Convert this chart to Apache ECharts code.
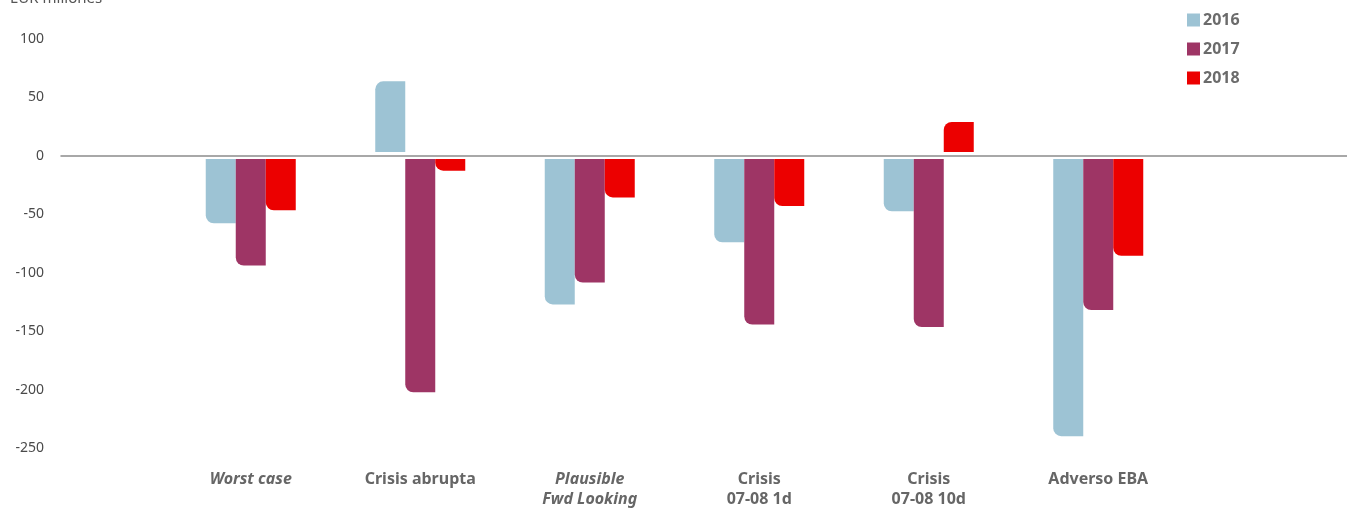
<!DOCTYPE html>
<html>
<head>
<meta charset="utf-8">
<title>EUR millones</title>
<script src="https://cdn.jsdelivr.net/npm/echarts@6/dist/echarts.min.js"></script>
<style>
  html, body { margin: 0; padding: 0; background: #fff; }
  #chart { width: 1347px; height: 509px; }
</style>
</head>
<body>
<div id="chart"></div>
<script>
const categories = ['Worst case', 'Crisis abrupta', 'Plausible\nFwd Looking', 'Crisis\n07-08 1d', 'Crisis\n07-08 10d', 'Adverso EBA']
const italicCats = ['Worst case', 'Plausible\nFwd Looking']
const years = ['2016', '2017', '2018']
const values2016 = [-59.3, 63.3, -129.4, -75.8, -49, -243.2]
const values2017 = [-95.8, -205.3, -110.6, -146.8, -149, -134.3]
const values2018 = [-48.2, -13.9, -37, -44.5, 28.2, -87.5]
const yTicks = { min: -250, max: 100, interval: 50 }
const colors = ['#9dc3d4', '#9e3565', '#ec0000']

const FONT = '"Noto Sans", "Open Sans", sans-serif'
const gridTop = 38.8
const gridHeight = 409.2

function barData(list) {
  return list.map(v => ({
    value: v,
    itemStyle: { borderRadius: v < 0 ? [0, 0, 0, 8] : [8, 0, 0, 0] }
  }))
}

const chart = echarts.init(document.getElementById('chart'))
chart.setOption({
  animation: false,
  backgroundColor: '#fff',
  color: colors,
  title: {
    text: 'EUR millones',
    left: 5,
    top: -14,
    textStyle: { fontFamily: FONT, fontSize: 15, fontWeight: 'normal', color: '#555' }
  },
  legend: {
    orient: 'vertical',
    left: 1182,
    top: 7,
    itemWidth: 13,
    itemHeight: 13,
    itemGap: 13,
    icon: 'rect',
    data: years,
    textStyle: { fontFamily: FONT, fontSize: 16, fontWeight: 'bold', color: '#6b6b6b', padding: [0, 0, 0, -2] }
  },
  grid: [
    { left: 61, right: 0, top: gridTop, height: gridHeight },
    { left: 166, right: 164, top: gridTop, height: gridHeight }
  ],
  xAxis: [
    {
      gridIndex: 0, type: 'value', min: 0, max: 1, z: 3,
      axisLine: { show: true, onZero: true, onZeroAxisIndex: 0, lineStyle: { color: '#fff', width: 7 } },
      axisTick: { show: false }, axisLabel: { show: false }, splitLine: { show: false }
    },
    {
      gridIndex: 0, type: 'value', min: 0, max: 1, z: 4,
      axisLine: { show: true, onZero: true, onZeroAxisIndex: 0, lineStyle: { color: '#8c8c8c', width: 1.5 } },
      axisTick: { show: false }, axisLabel: { show: false }, splitLine: { show: false }
    },
    {
      gridIndex: 1, type: 'category', data: categories,
      axisLine: { show: false, onZero: false },
      axisTick: { show: false },
      axisLabel: {
        margin: 26,
        interval: 0,
        fontFamily: FONT,
        fontSize: 16,
        fontWeight: 'bold',
        lineHeight: 19.5,
        color: '#666',
        formatter: v => italicCats.includes(v) ? '{i|' + v.split('\n').join('}\n{i|') + '}' : v,
        rich: { i: { fontStyle: 'italic', fontWeight: 'bold', fontSize: 16, fontFamily: FONT, color: '#666', lineHeight: 19.5 } }
      }
    }
  ],
  yAxis: [
    {
      gridIndex: 0, type: 'value', min: yTicks.min, max: yTicks.max, interval: yTicks.interval,
      axisLine: { show: false }, axisTick: { show: false }, splitLine: { show: false },
      axisLabel: { margin: 17, fontFamily: FONT, fontSize: 14, color: '#4a4a4a' }
    },
    {
      gridIndex: 1, type: 'value', min: yTicks.min, max: yTicks.max, interval: yTicks.interval,
      show: false, splitLine: { show: false }
    }
  ],
  series: [
    { name: '2016', type: 'bar', xAxisIndex: 2, yAxisIndex: 1, barWidth: 30, barGap: '0%', data: barData(values2016) },
    { name: '2017', type: 'bar', xAxisIndex: 2, yAxisIndex: 1, barWidth: 30, barGap: '0%', data: barData(values2017) },
    { name: '2018', type: 'bar', xAxisIndex: 2, yAxisIndex: 1, barWidth: 30, barGap: '0%', data: barData(values2018) }
  ]
})
</script>
</body>
</html>
